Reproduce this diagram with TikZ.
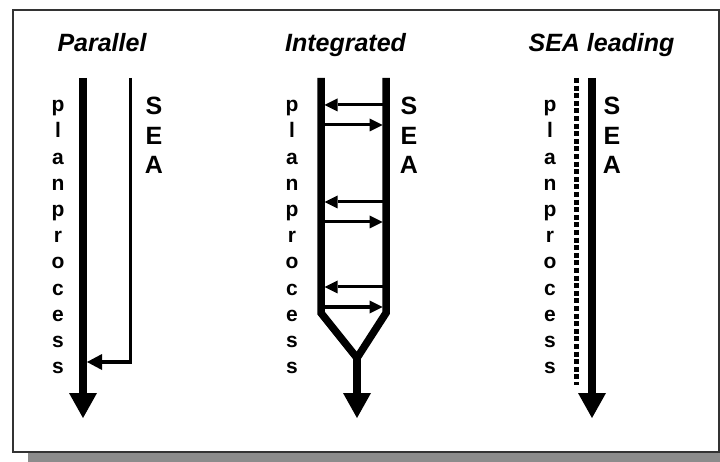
\documentclass[tikz,border=0pt]{standalone}
\usepackage{fontspec}
\setmainfont{Liberation Sans}
\usetikzlibrary{arrows.meta}

\tikzset{
	heading/.style={font=\fontsize{25}{30}\selectfont\bfseries\itshape, anchor=base, inner sep=0pt},
	letter/.style={font=\fontsize{21}{24}\selectfont\bfseries, anchor=base, inner sep=0pt},
	bigletter/.style={font=\fontsize{25}{28}\selectfont\bfseries, anchor=base, inner sep=0pt},
	thickflow/.style={line width=7.5pt, -{Triangle[length=25pt, width=28pt, line width=0pt]}},
	thinflow/.style={line width=3.5pt, line join=miter, -{Triangle[length=15pt, width=16pt, line width=0pt]}},
	link/.style={line width=3pt, -{Triangle[length=13pt, width=13pt, line width=0pt]}}
}

\begin{document}
\begin{tikzpicture}[x=1pt, y=-1pt]
				\useasboundingbox (0,0) rectangle (720,462);
				% frame with shadow
				\fill[black!45] (28,452) rectangle (720,462);
				\draw[black!80, line width=1.3pt, fill=white] (13,10) rectangle (719,452);
				
				\node[heading] (t1) at (102,52){Parallel};
				\node[heading] (t2) at (345.5,52){Integrated};
				\node[heading] (t3) at (601.5,52){SEA leading};
				
				% Parallel
				\coordinate (a1) at (83,78);
				\coordinate (a2) at (83,418);
				\coordinate (a3) at (130.5,78);
				\coordinate (a4) at (130.5,362);
				\coordinate (a5) at (87,362);
				
				\draw[thickflow] (a1) -- (a2);
				\draw[thinflow] (a3) -- (a4) -- (a5);
				
				% Integrated
				\coordinate (b1) at (321,78);
				\coordinate (b2) at (321,313);
				\coordinate (b3) at (357,358);
				\coordinate (b4) at (386,313);
				\coordinate (b5) at (386,78);
				\coordinate (b6) at (357,418);
				
				\draw[line width=7.5pt, line join=miter] (b1) -- (b2) -- (b3) -- (b4) -- (b5);
				\draw[thickflow] (b3) -- (b6);
				
				\foreach \yl/\yr [count=\i] in {105/125, 202/222, 287/307}{
					\coordinate (l\i) at (324.5,\yl);
					\coordinate (r\i) at (382.5,\yl);
					\coordinate (m\i) at (324.5,\yr);
					\coordinate (n\i) at (382.5,\yr);
					\draw[link] (r\i) -- (l\i);
					\draw[link] (m\i) -- (n\i);
				}
				
				% SEA leading
				\coordinate (c1) at (576.7,78);
				\coordinate (c2) at (576.7,385);
				\coordinate (c3) at (592,78);
				\coordinate (c4) at (592,418);
				
				\draw[line width=5pt, dash pattern=on 5pt off 2.6pt] (c1) -- (c2);
				\draw[thickflow] (c3) -- (c4);
				
				% vertical words
				\foreach \col/\xp/\xs in {a/58/154, b/292/409, c/550/612}{
					\foreach \ch [count=\i] in {p,l,a,n,p,r,o,c,e,s,s}
						\node[letter] (plan\col\i) at (\xp,{111.7+(\i-1)*26.2}){\ch};
					\foreach \ch [count=\i] in {S,E,A}
						\node[bigletter] (sea\col\i) at (\xs,{115+(\i-1)*29.5}){\ch};
				}
				\end{tikzpicture}
\end{document}
